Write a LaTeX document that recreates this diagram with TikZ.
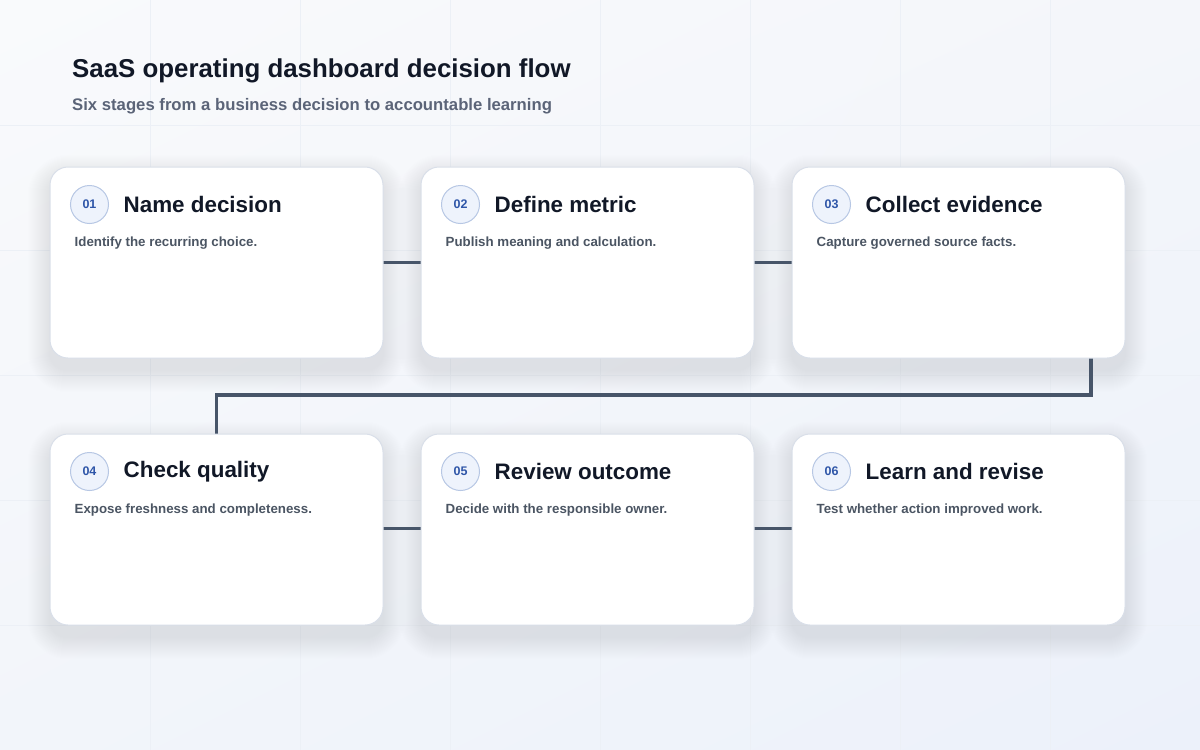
\documentclass[tikz,border=0pt]{standalone}
\usepackage{fontspec}
\setmainfont{Liberation Sans}
\usetikzlibrary{positioning,shadings}

\definecolor{ink}{HTML}{111827}
\definecolor{subink}{HTML}{5B6478}
\definecolor{descink}{HTML}{4B5563}
\definecolor{wire}{HTML}{475569}
\definecolor{cardline}{HTML}{D9DFE9}
\definecolor{badgefill}{HTML}{EEF3FC}
\definecolor{badgeline}{HTML}{B7C7E4}
\definecolor{badgeink}{HTML}{2F56A8}
\definecolor{gridline}{HTML}{ECF0F6}
\definecolor{shadowc}{HTML}{8A97B5}
\definecolor{bgul}{HTML}{F9FAFC}
\definecolor{bgur}{HTML}{F4F6FA}
\definecolor{bgll}{HTML}{F2F5FA}
\definecolor{bglr}{HTML}{ECF1FA}

\tikzset{
  card/.style={draw=cardline,line width=1pt,fill=white,rounded corners=18pt,
    minimum width=333pt,minimum height=191pt,inner sep=0pt},
  badge/.style={circle,draw=badgeline,line width=1pt,fill=badgefill,minimum size=38pt,
    inner sep=0pt,text=badgeink,font=\fontsize{12.5}{12.5}\selectfont\bfseries},
  stagetitle/.style={anchor=west,inner sep=0pt,text=ink,font=\fontsize{22.4}{22.4}\selectfont\bfseries},
  stagedesc/.style={anchor=west,inner sep=0pt,text=descink,font=\fontsize{13.3}{13.3}\selectfont\bfseries},
  link/.style={draw=wire,line width=3.2pt}
}

% one card with badge, title and text
\newcommand{\stagecard}[6]{%
  \foreach \s in {1,...,22}
    \fill[shadowc,opacity=0.007,rounded corners=18pt+\s pt]
      (#2-333/2-\s,#3-191/2+10-\s) rectangle (#2+333/2+\s,#3+191/2+12+\s);
  \node[card] (#1) at (#2,#3) {};
  \node[badge] (#1n) at ([xshift=40pt,yshift=-38pt]#1.north west) {#4};
  \node[stagetitle] (#1t) at ([xshift=74pt,yshift=-38pt]#1.north west) {#5};
  \node[stagedesc] (#1d) at ([xshift=25pt,yshift=-77pt]#1.north west) {#6};
}

\begin{document}
\begin{tikzpicture}[x=1pt,y=-1pt]
 \useasboundingbox (0,0) rectangle (1200,750);

 % Background
 \shade[upper left=bgul,upper right=bgur,lower left=bgll,lower right=bglr]
   (0,0) rectangle (1200,750);
 \foreach \gx in {150,300,...,1050}
   \draw[gridline,line width=0.8pt] (\gx,0) -- (\gx,750);
 \foreach \gy in {125,250,...,625}
   \draw[gridline,line width=0.8pt] (0,\gy) -- (1200,\gy);

 % Heading
 \node[anchor=base west,inner sep=0pt,text=ink,font=\fontsize{25.85}{26}\selectfont\bfseries]
   (title) at (72,77) {SaaS operating dashboard decision flow};
 \node[anchor=base west,inner sep=0pt,text=subink,font=\fontsize{16.7}{17}\selectfont\bfseries]
   (subtitle) at (72,110) {Six stages from a business decision to accountable learning};

 % Connectors
 \coordinate (bend) at (216.5,395);
 \draw[link] (216.5,262.5) -- (958,262.5);
 \draw[link] (216.5,528.5) -- (958,528.5);
 \draw[link] (1091,330) |- (bend) -- (216.5,460);

 % Stages
 \stagecard{c1}{216.5}{262.5}{01}{Name decision}{Identify the recurring choice.}
 \stagecard{c2}{587.5}{262.5}{02}{Define metric}{Publish meaning and calculation.}
 \stagecard{c3}{958.5}{262.5}{03}{Collect evidence}{Capture governed source facts.}
 \stagecard{c4}{216.5}{529.5}{04}{Check quality}{Expose freshness and completeness.}
 \stagecard{c5}{587.5}{529.5}{05}{Review outcome}{Decide with the responsible owner.}
 \stagecard{c6}{958.5}{529.5}{06}{Learn and revise}{Test whether action improved work.}
\end{tikzpicture}
\end{document}
